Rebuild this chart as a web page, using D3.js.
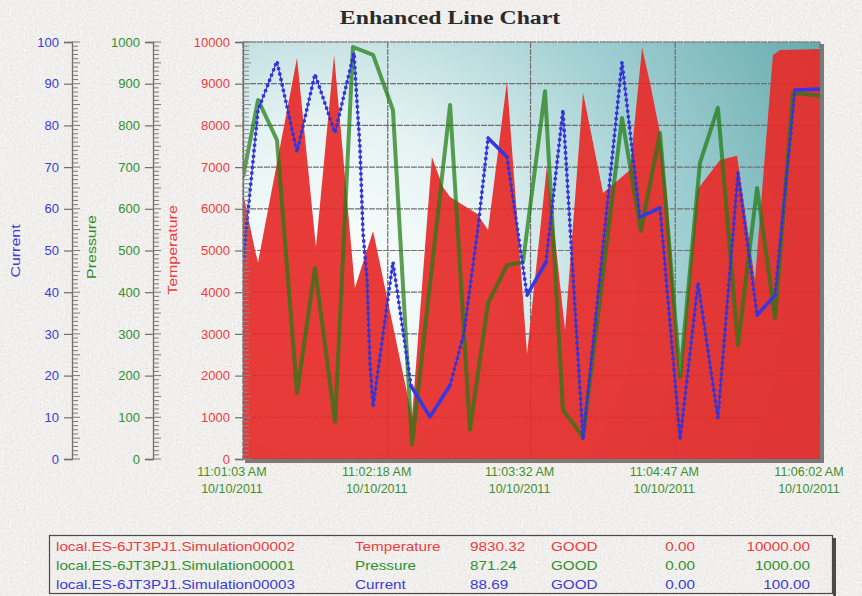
<!DOCTYPE html>
<html><head><meta charset="utf-8">
<script src="https://cdn.jsdelivr.net/npm/d3@7"></script>
<style>body{margin:0;background:#dcd8d2}svg{display:block}</style>
</head><body>
<svg id="chart" width="862" height="596"></svg>
<script>
// ---------------- DATA ----------------
const startTime = "10/10/2011 11:01:03 AM";
const timeLabels = ["11:01:03 AM", "11:02:18 AM", "11:03:32 AM", "11:04:47 AM", "11:06:02 AM"];
const dateLabels = ["10/10/2011", "10/10/2011", "10/10/2011", "10/10/2011", "10/10/2011"];

const currentTicks = [0, 10, 20, 30, 40, 50, 60, 70, 80, 90, 100];
const pressureTicks = [0, 100, 200, 300, 400, 500, 600, 700, 800, 900, 1000];
const temperatureTicks = [0, 1000, 2000, 3000, 4000, 5000, 6000, 7000, 8000, 9000, 10000];

// seconds after start time
const temperatureSec = [0, 6.2, 7.8, 28.0, 37.8, 47.2, 58.0, 67.4, 87.6, 97.9, 103.6, 107.3, 121.3, 127.0, 136.8, 147.2, 157.5, 166.9, 176.2, 186.6, 200.5, 206.8, 210.9, 216.1, 219.7, 226.5, 235.3, 247.2, 256.0, 265.3, 274.6, 278.3, 299];
const temperatureVal = [6380, 5010, 4720, 9620, 5080, 9690, 4100, 5470, 1010, 7240, 6520, 6280, 5880, 5490, 9060, 2520, 7030, 3090, 8780, 6380, 6930, 9860, 9020, 7820, 6280, 1970, 6450, 7170, 7270, 4290, 9690, 9810, 9830.32];

const pressureSec = [0, 7.8, 17.6, 28.0, 37.3, 47.7, 57.0, 67.4, 77.7, 87.6, 107.3, 117.6, 127.0, 136.8, 145.1, 156.5, 165.8, 176.2, 196.4, 206.2, 216.1, 226.5, 236.8, 246.1, 256.5, 266.4, 275.7, 285.0, 299];
const pressureVal = [676, 861, 765, 158, 458, 89, 988, 969, 837, 35, 849, 70, 374, 465, 472, 882, 118, 53, 818, 547, 782, 197, 710, 842, 273, 650, 338, 878, 871.24];

const currentSec = [0, 7.8, 17.6, 28.0, 37.3, 47.7, 57.5, 59.1, 60.6, 62.2, 64.3, 65.8, 67.4, 77.7, 87.1, 96.9, 107.3, 114.5, 121.8, 127.0, 136.8, 147.2, 157.0, 165.8, 176.2, 196.4, 205.7, 216.1, 226.5, 235.8, 246.1, 256.5, 266.4, 275.7, 286.0, 299];
const currentVal = [47.2, 83.7, 95.4, 73.6, 92.3, 78.2, 97.4, 85.4, 74.8, 54.2, 42.9, 23.0, 12.5, 47.2, 17.5, 10.1, 17.7, 30.2, 55.6, 77.0, 72.4, 39.3, 47.2, 83.7, 4.6, 95.2, 58.0, 60.2, 4.6, 42.2, 9.8, 68.6, 34.5, 39.3, 88.5, 88.69];
// stretches without samples (drawn as plain thick line)
const currentGapsSec = [[87.1, 107.3], [127.0, 136.8], [147.2, 157.0], [205.7, 216.1], [266.4, 275.7], [286.0, 299]];

const legendNames = ["local.ES-6JT3PJ1.Simulation00002", "local.ES-6JT3PJ1.Simulation00001", "local.ES-6JT3PJ1.Simulation00003"];
const legendTypes = ["Temperature", "Pressure", "Current"];
const legendValues = ["9830.32", "871.24", "88.69"];
const legendStatus = ["GOOD", "GOOD", "GOOD"];
const legendMin = ["0.00", "0.00", "0.00"];
const legendMax = ["10000.00", "1000.00", "100.00"];

// ---------------- DRAW ----------------
const colTemp = "#ee3c3c", colPres = "#2f8f2f", colCur = "#3a3ad8";
const svg = d3.select("#chart");
const W = 862, H = 596;
const P = {l: 243, r: 820, t: 42, b: 459};
const defs = svg.append("defs");

// stone background
const f = defs.append("filter").attr("id", "stone").attr("x", 0).attr("y", 0).attr("width", "100%").attr("height", "100%");
f.append("feTurbulence").attr("type", "fractalNoise").attr("baseFrequency", 0.5).attr("numOctaves", 3).attr("seed", 7).attr("result", "n");
f.append("feColorMatrix").attr("in", "n").attr("type", "saturate").attr("values", 0).attr("result", "g");
const ct = f.append("feComponentTransfer").attr("in", "g");
ct.append("feFuncR").attr("type", "linear").attr("slope", 0.32).attr("intercept", 0.72);
ct.append("feFuncG").attr("type", "linear").attr("slope", 0.32).attr("intercept", 0.705);
ct.append("feFuncB").attr("type", "linear").attr("slope", 0.32).attr("intercept", 0.685);
ct.append("feFuncA").attr("type", "table").attr("tableValues", "1 1");
svg.append("rect").attr("width", W).attr("height", H).attr("fill", "#dcd8d2");
svg.append("rect").attr("width", W).attr("height", H).attr("filter", "url(#stone)");

const grad = defs.append("radialGradient").attr("id", "plotbg").attr("gradientUnits", "userSpaceOnUse")
  .attr("cx", 330).attr("cy", 290).attr("r", 560);
grad.append("stop").attr("offset", 0).attr("stop-color", "#ffffff");
grad.append("stop").attr("offset", 0.3).attr("stop-color", "#e6f3f3");
grad.append("stop").attr("offset", 0.6).attr("stop-color", "#a6d2d4");
grad.append("stop").attr("offset", 1).attr("stop-color", "#62a9ae");
defs.append("clipPath").attr("id", "clip").append("rect").attr("x", P.l).attr("y", P.t).attr("width", P.r - P.l).attr("height", P.b - P.t);

const parseFull = d3.timeParse("%m/%d/%Y %I:%M:%S %p");
const t0 = parseFull(startTime);
const toDate = s => new Date(t0.getTime() + s * 1000);
const tickDates = timeLabels.map((t, i) => parseFull(dateLabels[i] + " " + t));

const x = d3.scaleTime().domain([toDate(0), toDate(299)]).range([P.l, P.r]);
const yT = d3.scaleLinear().domain([0, 10000]).range([P.b, P.t]);
const yP = d3.scaleLinear().domain([0, 1000]).range([P.b, P.t]);
const yC = d3.scaleLinear().domain([0, 100]).range([P.b, P.t]);

// plot background
svg.append("rect").attr("x", P.l).attr("y", P.t).attr("width", P.r - P.l).attr("height", P.b - P.t).attr("fill", "url(#plotbg)");

// grid
const grid = svg.append("g");
grid.selectAll("line.h").data(temperatureTicks).join("line")
  .attr("x1", P.l).attr("x2", P.r).attr("y1", d => yT(d)).attr("y2", d => yT(d))
  .attr("stroke", "#707070").attr("stroke-width", 1.2).attr("stroke-dasharray", "6 1");
grid.selectAll("line.v").data(tickDates).join("line")
  .attr("x1", d => x(d)).attr("x2", d => x(d)).attr("y1", P.t).attr("y2", P.b)
  .attr("stroke", "#707070").attr("stroke-width", 1.2).attr("stroke-dasharray", "6 1");

const plotG = svg.append("g").attr("clip-path", "url(#clip)");
// temperature area
const tData = temperatureSec.map((s, i) => ({t: toDate(s), v: temperatureVal[i]}));
plotG.append("path").datum(tData)
  .attr("d", d3.area().x(d => x(d.t)).y0(P.b).y1(d => yT(d.v)))
  .attr("fill", "#e62c2a").attr("fill-opacity", 0.93);

// pressure line
const pData = pressureSec.map((s, i) => ({t: toDate(s), v: pressureVal[i]}));
plotG.append("path").datum(pData)
  .attr("d", d3.line().x(d => x(d.t)).y(d => yP(d.v)))
  .attr("fill", "none").attr("stroke", "#1e7c12").attr("stroke-opacity", 0.72)
  .attr("stroke-width", 4).attr("stroke-linejoin", "round");

// current line
const cData = currentSec.map((s, i) => ({s, t: toDate(s), v: currentVal[i]}));
const inGap = (a, b) => currentGapsSec.some(g => a >= g[0] - 1e-6 && b <= g[1] + 1e-6);
const line = d3.line().x(d => x(d.t)).y(d => yC(d.v));
const runs = [];
for (let i = 0; i < cData.length - 1; i++) {
  const gap = inGap(cData[i].s, cData[i + 1].s);
  const last = runs[runs.length - 1];
  if (last && last.gap === gap) last.pts.push(cData[i + 1]);
  else runs.push({gap, pts: [cData[i], cData[i + 1]]});
}
runs.filter(r => !r.gap).forEach(r => {
  plotG.append("path").attr("d", line(r.pts)).attr("fill", "none")
    .attr("stroke", "#2a2ac8").attr("stroke-width", 1);
  plotG.append("path").attr("d", line(r.pts)).attr("fill", "none")
    .attr("stroke", "#3535dc").attr("stroke-width", 3.8).attr("stroke-linecap", "round")
    .attr("stroke-dasharray", "0 5.6");
});
runs.filter(r => r.gap).forEach(r => {
  plotG.append("path").attr("d", line(r.pts)).attr("fill", "none")
    .attr("stroke", "#3636e2").attr("stroke-width", 3.6).attr("stroke-linejoin", "round").attr("stroke-linecap", "round");
});

// plot frame & shadow
svg.append("line").attr("x1", P.l).attr("x2", P.r).attr("y1", P.t).attr("y2", P.t)
  .attr("stroke", "#8a8a8a").attr("stroke-dasharray", "2 1");
svg.append("rect").attr("x", P.r).attr("y", P.t + 2).attr("width", 4).attr("height", P.b - P.t + 2).attr("fill", "#7a7a7a");
svg.append("rect").attr("x", P.l + 2).attr("y", P.b).attr("width", P.r - P.l + 2).attr("height", 4).attr("fill", "#7a7a7a");

// y axes
function yAxis(scale, ticks, xpos, color, minorInside) {
  const g = svg.append("g").attr("transform", `translate(${xpos},0)`);
  const ax = d3.axisLeft(scale).tickValues(ticks).tickSize(8).tickPadding(5).tickFormat(d3.format("d"));
  g.call(ax);
  g.select(".domain").attr("stroke", "#6e6e6e").attr("stroke-width", 1.3);
  g.selectAll(".tick line").attr("stroke", "#6e6e6e").attr("stroke-width", 1.2);
  g.selectAll(".tick text").attr("fill", color).attr("font-family", "Liberation Sans, Arial, sans-serif").attr("font-size", 13);
  const step = (ticks[1] - ticks[0]) / 10;
  const minors = d3.range(ticks[0], ticks[ticks.length - 1] + step / 2, step);
  g.selectAll("line.minor").data(minors).join("line").attr("class", "minor")
    .attr("x1", 0).attr("x2", (d, i) => (i % 5 === 0 ? 8 : 6))
    .attr("y1", d => scale(d)).attr("y2", d => scale(d))
    .attr("stroke", minorInside ? "#8a8a8a" : "#7a7a7a").attr("stroke-width", 1);
  return g;
}
yAxis(yC, currentTicks, 72, colCur);
yAxis(yP, pressureTicks, 153, colPres);
yAxis(yT, temperatureTicks, P.l, colTemp, true);

function axisTitle(text, xpos, ypos, color) {
  svg.append("text").attr("transform", `translate(${xpos},${ypos}) rotate(-90) scale(1.33,1)`)
    .attr("text-anchor", "middle").attr("fill", color)
    .attr("font-family", "Liberation Sans, Arial, sans-serif").attr("font-size", 12).text(text);
}
axisTitle("Current", 20, 251, colCur);
axisTitle("Pressure", 96, 247, colPres);
axisTitle("Temperature", 177, 250, colTemp);

// x axis labels
const xl = svg.append("g").attr("font-family", "Liberation Sans, Arial, sans-serif").attr("font-size", 12.5).attr("fill", "#3f8f2f");
xl.selectAll("text.t").data(tickDates).join("text").attr("text-anchor", "middle")
  .attr("x", d => x(d) - 11).attr("y", 476).text((d, i) => timeLabels[i]);
xl.selectAll("text.d").data(tickDates).join("text").attr("text-anchor", "middle")
  .attr("x", d => x(d) - 11).attr("y", 493).text((d, i) => dateLabels[i]);

// title
svg.append("text").attr("transform", "translate(450,24) scale(1.32,1)").attr("text-anchor", "middle")
  .attr("font-family", "Liberation Serif, Times New Roman, serif").attr("font-weight", "bold")
  .attr("font-size", 18).attr("fill", "#2a2a2a").text("Enhanced Line Chart");

// legend table
svg.append("rect").attr("x", 833).attr("y", 538).attr("width", 3).attr("height", 60).attr("fill", "#4a4a4a");
svg.append("rect").attr("x", 49.5).attr("y", 535.5).attr("width", 783).attr("height", 58)
  .attr("fill", "none").attr("stroke", "#4a4a4a").attr("stroke-width", 1.2);
const legColors = [colTemp, colPres, colCur];
const lg = svg.append("g").attr("font-family", "Liberation Sans, Arial, sans-serif").attr("font-size", 12.5);
const cols = [
  {arr: legendNames, x: 56, anchor: "start"},
  {arr: legendTypes, x: 355, anchor: "start"},
  {arr: legendValues, x: 470, anchor: "start"},
  {arr: legendStatus, x: 551, anchor: "start"},
  {arr: legendMin, x: 695, anchor: "end"},
  {arr: legendMax, x: 810, anchor: "end"}
];
legendNames.forEach((n, r) => {
  cols.forEach(c => {
    lg.append("text").attr("transform", `translate(${c.x},${551 + r * 19}) scale(1.22,1)`)
      .attr("text-anchor", c.anchor).attr("fill", legColors[r]).text(c.arr[r]);
  });
});
</script>
</body></html>
